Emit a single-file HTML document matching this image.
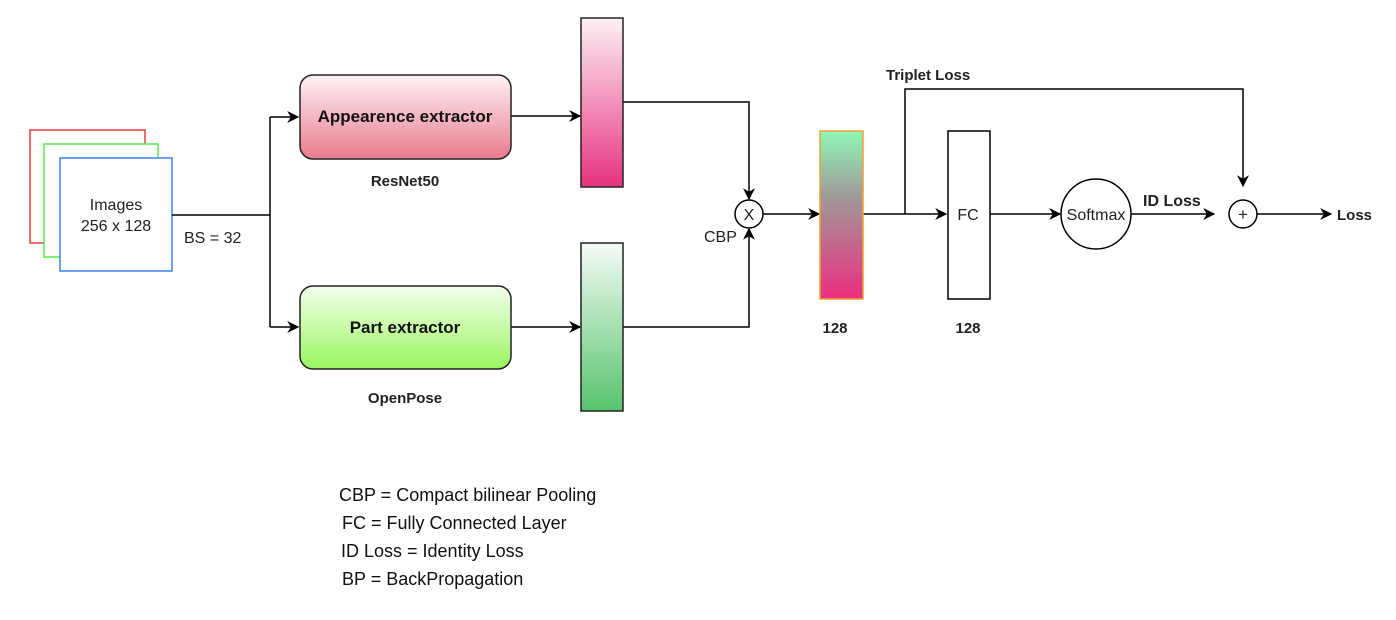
<!DOCTYPE html>
<html><head><meta charset="utf-8"><style>
html,body{margin:0;padding:0;background:#fff;}
svg{display:block;font-family:"Liberation Sans",Arial,sans-serif;}
</style></head><body>
<svg width="1396" height="620" viewBox="0 0 1396 620" xmlns="http://www.w3.org/2000/svg">
<defs>
<linearGradient id="gp" x1="0" y1="0" x2="0" y2="1"><stop offset="0" stop-color="#fdf0f5"/><stop offset="1" stop-color="#e6337f"/></linearGradient>
<linearGradient id="gg" x1="0" y1="0" x2="0" y2="1"><stop offset="0" stop-color="#f4fbf6"/><stop offset="1" stop-color="#57c36d"/></linearGradient>
<linearGradient id="gm" x1="0" y1="0" x2="0" y2="1"><stop offset="0" stop-color="#8ff7b8"/><stop offset="0.4" stop-color="#a09898"/><stop offset="1" stop-color="#ec2e7f"/></linearGradient>
<linearGradient id="ga" x1="0" y1="0" x2="0" y2="1"><stop offset="0" stop-color="#fdf3f5"/><stop offset="1" stop-color="#e97a8d"/></linearGradient>
<linearGradient id="gpt" x1="0" y1="0" x2="0" y2="1"><stop offset="0" stop-color="#f4ffec"/><stop offset="1" stop-color="#9af55f"/></linearGradient>
<marker id="ar2" viewBox="0 0 10 10" refX="9" refY="5" markerWidth="12" markerHeight="12" orient="auto" markerUnits="userSpaceOnUse"><path d="M0,0 L10,5 L0,10 L3,5 z" fill="#000"/></marker>
</defs>
<g fill="#fff" stroke-width="1.5">
<rect x="30" y="130" width="115" height="113" stroke="#f03a3a"/>
<rect x="44" y="144" width="114" height="113" stroke="#55ee44"/>
<rect x="60" y="158" width="112" height="113" stroke="#3a80f0"/>
</g>
<text x="116" y="210" font-size="16" text-anchor="middle" fill="#222">Images</text>
<text x="116" y="231" font-size="16" text-anchor="middle" fill="#222">256 x 128</text>
<text x="184" y="243" font-size="16" fill="#222">BS = 32</text>
<g stroke="#000" stroke-width="1.5" fill="none">
<path d="M172,215 H270 M270,117 V327"/>
<path d="M270,117 H298" marker-end="url(#ar2)"/>
<path d="M270,327 H298" marker-end="url(#ar2)"/>
<path d="M511,116 H580" marker-end="url(#ar2)"/>
<path d="M511,327 H580" marker-end="url(#ar2)"/>
<path d="M623,102 H749 V199" marker-end="url(#ar2)"/>
<path d="M623,327 H749 V229" marker-end="url(#ar2)"/>
<path d="M763,214 H819" marker-end="url(#ar2)"/>
<path d="M863,214 H946" marker-end="url(#ar2)"/>
<path d="M905,214 V89 H1243 V186" marker-end="url(#ar2)"/>
<path d="M990,214 H1060" marker-end="url(#ar2)"/>
<path d="M1131,214 H1214" marker-end="url(#ar2)"/>
<path d="M1257,214 H1331" marker-end="url(#ar2)"/>
</g>
<rect x="300" y="75" width="211" height="84" rx="13" fill="url(#ga)" stroke="#222" stroke-width="1.5"/>
<text x="405" y="122" font-size="17" font-weight="bold" text-anchor="middle" fill="#111">Appearence extractor</text>
<text x="405" y="186" font-size="15" font-weight="bold" text-anchor="middle" fill="#222">ResNet50</text>
<rect x="300" y="286" width="211" height="83" rx="13" fill="url(#gpt)" stroke="#222" stroke-width="1.5"/>
<text x="405" y="333" font-size="17" font-weight="bold" text-anchor="middle" fill="#111">Part extractor</text>
<text x="405" y="403" font-size="15" font-weight="bold" text-anchor="middle" fill="#222">OpenPose</text>
<rect x="581" y="18" width="42" height="169" fill="url(#gp)" stroke="#222" stroke-width="1.5"/>
<rect x="581" y="243" width="42" height="168" fill="url(#gg)" stroke="#222" stroke-width="1.5"/>
<circle cx="749" cy="214" r="14" fill="#fff" stroke="#000" stroke-width="1.5"/>
<text x="749" y="220" font-size="16" text-anchor="middle" fill="#222">X</text>
<text x="704" y="242" font-size="16" fill="#222">CBP</text>
<rect x="820" y="131" width="43" height="168" fill="url(#gm)" stroke="#f0a030" stroke-width="1.5"/>
<text x="835" y="333" font-size="15" font-weight="bold" text-anchor="middle" fill="#222">128</text>
<text x="886" y="80" font-size="15" font-weight="bold" fill="#222">Triplet Loss</text>
<rect x="948" y="131" width="42" height="168" fill="#fff" stroke="#000" stroke-width="1.5"/>
<text x="968" y="220" font-size="16" text-anchor="middle" fill="#222">FC</text>
<text x="968" y="333" font-size="15" font-weight="bold" text-anchor="middle" fill="#222">128</text>
<circle cx="1096" cy="214" r="35" fill="#fff" stroke="#000" stroke-width="1.5"/>
<text x="1096" y="220" font-size="16" text-anchor="middle" fill="#222">Softmax</text>
<text x="1143" y="206" font-size="16" font-weight="bold" fill="#222">ID Loss</text>
<circle cx="1243" cy="214" r="14" fill="#fff" stroke="#000" stroke-width="1.5"/>
<text x="1243" y="220" font-size="17" text-anchor="middle" fill="#222">+</text>
<text x="1337" y="220" font-size="15" font-weight="bold" fill="#222">Loss</text>
<g font-size="18" fill="#111">
<text x="339" y="501">CBP = Compact bilinear Pooling</text>
<text x="342" y="529">FC = Fully Connected Layer</text>
<text x="341" y="557">ID Loss = Identity Loss</text>
<text x="342" y="585">BP = BackPropagation</text>
</g>
</svg>
</body></html>
